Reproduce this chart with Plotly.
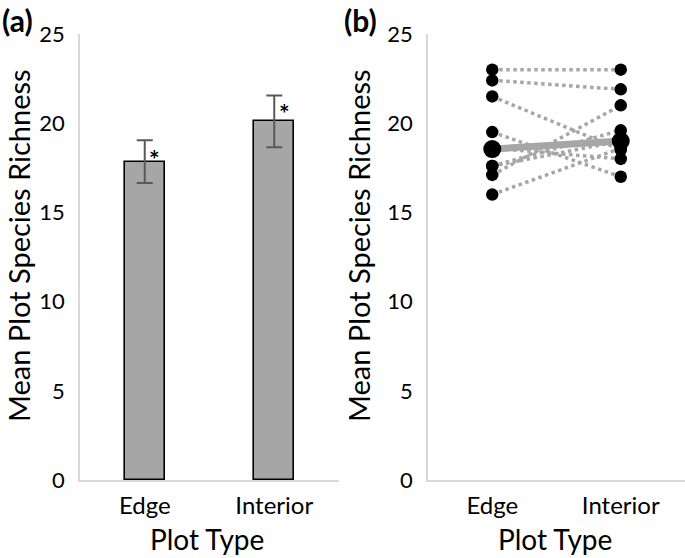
import plotly.graph_objects as go

# ---- data ----
categories = ["Edge", "Interior"]
bar_means = [17.85, 20.1]
bar_err_plus = [1.2, 1.45]
bar_err_minus = [1.2, 1.45]

edge_plots = [23.0, 22.4, 21.5, 19.5, 18.6, 17.6, 17.1, 16.0, 17.6]
interior_plots = [23.0, 21.9, 18.5, 17.0, 18.0, 19.6, 21.0, 18.6, 19.0]
group_means = [18.55, 19.0]

y_ticks = [0, 5, 10, 15, 20, 25]

FONT = "Lato, 'Open Sans', sans-serif"
W, H = 685, 558

def px(x):
    return x / W

def py(y):
    return (H - y) / H

fig = go.Figure()

# panel (a) bars
fig.add_trace(go.Bar(
    x=[0, 1], y=bar_means,
    width=0.31,
    marker=dict(color="#a6a6a6", line=dict(color="black", width=1.6)),
    error_y=dict(type="data", array=bar_err_plus, arrayminus=bar_err_minus,
                 color="#595959", thickness=2, width=8, symmetric=False),
    xaxis="x", yaxis="y", showlegend=False,
))

# panel (b) paired lines
for e, i in zip(edge_plots, interior_plots):
    fig.add_trace(go.Scatter(
        x=[0, 1], y=[e, i], mode="lines",
        line=dict(color="#a6a6a6", width=3.5, dash="dot"),
        xaxis="x2", yaxis="y2", showlegend=False, hoverinfo="skip",
    ))
fig.add_trace(go.Scatter(
    x=[0, 1], y=group_means, mode="lines",
    line=dict(color="#a6a6a6", width=7),
    xaxis="x2", yaxis="y2", showlegend=False,
))
fig.add_trace(go.Scatter(
    x=[0] * len(edge_plots) + [1] * len(interior_plots),
    y=edge_plots + interior_plots, mode="markers",
    marker=dict(color="black", size=12.5),
    xaxis="x2", yaxis="y2", showlegend=False,
))
fig.add_trace(go.Scatter(
    x=[0, 1], y=group_means, mode="markers",
    marker=dict(color="black", size=18),
    xaxis="x2", yaxis="y2", showlegend=False,
))

ydom = [py(480), py(34)]
xa = dict(range=[-0.5, 1.5], tickvals=[0, 1], ticktext=categories,
          showline=True, linecolor="#d9d9d9", linewidth=1.5, showgrid=False,
          zeroline=False, ticks="", ticklabelstandoff=3, automargin=False,
          tickfont=dict(family=FONT, size=24, color="black"), fixedrange=True)
ya = dict(range=[0, 25], tickvals=y_ticks, domain=ydom,
          showline=True, linecolor="#d9d9d9", linewidth=1.5, showgrid=False,
          zeroline=False, ticks="", ticklabelstandoff=9, automargin=False,
          tickfont=dict(family=FONT, size=22, color="black"), fixedrange=True)

fig.update_layout(
    template="none",
    width=W, height=H,
    margin=dict(l=0, r=0, t=0, b=0, pad=0),
    plot_bgcolor="white", paper_bgcolor="white",
    font=dict(family=FONT, color="black"),
    xaxis=dict(xa, domain=[px(80), px(339)], anchor="y"),
    yaxis=dict(ya, anchor="x"),
    xaxis2=dict(xa, domain=[px(428), 1.0], anchor="y2"),
    yaxis2=dict(ya, anchor="x2"),
    bargap=0,
)

ann = []
# asterisks
ann.append(dict(x=0, y=18.0, xref="x", yref="y", text="<b>*</b>", showarrow=False,
                xshift=10, font=dict(family=FONT, size=25, color="black")))
ann.append(dict(x=1, y=20.55, xref="x", yref="y", text="<b>*</b>", showarrow=False,
                xshift=10, font=dict(family=FONT, size=25, color="black")))
# panel labels
ann.append(dict(x=0, y=1, xref="paper", yref="paper", text="<b>(a)</b>",
                showarrow=False, xanchor="left", yanchor="top",
                font=dict(family=FONT, size=30, color="black")))
ann.append(dict(x=px(342), y=1, xref="paper", yref="paper", text="<b>(b)</b>",
                showarrow=False, xanchor="left", yanchor="top",
                font=dict(family=FONT, size=30, color="black")))
# axis titles
for xc in (18, 358):
    ann.append(dict(x=px(xc), y=py(246), xref="paper", yref="paper",
                    text="Mean Plot Species Richness", textangle=-90, showarrow=False,
                    xanchor="center", yanchor="middle",
                    font=dict(family=FONT, size=29, color="black")))
for xc in (207, 555):
    ann.append(dict(x=px(xc), y=0, xref="paper", yref="paper",
                    text="Plot Type", showarrow=False, xanchor="center", yanchor="bottom",
                    font=dict(family=FONT, size=28, color="black")))
fig.update_layout(annotations=ann)

fig.write_html("out.html", config={"displayModeBar": False},
               post_script="document.body.style.margin='0';")
